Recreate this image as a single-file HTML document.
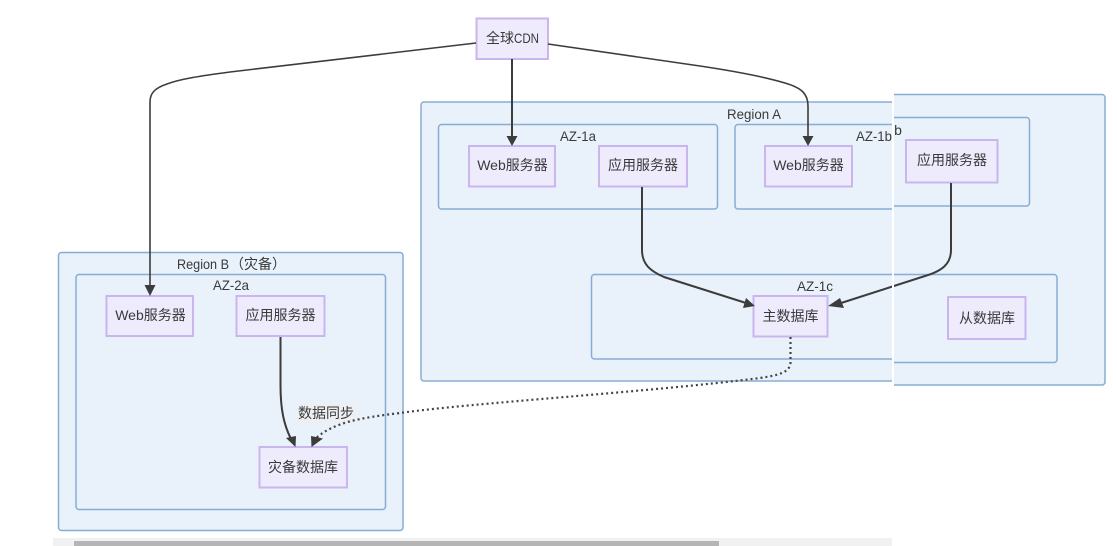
<!DOCTYPE html>
<html><head><meta charset="utf-8"><style>
html,body{margin:0;padding:0;background:#fff;width:1117px;height:546px;overflow:hidden}
svg{display:block;filter:blur(0.35px)}
text{font-family:"Liberation Sans","Noto Sans CJK SC",sans-serif;font-size:14px;fill:#3a3a3a;text-anchor:middle}
.g{fill:#e9f1fb;stroke:#88add4;stroke-width:1.5}
.n{fill:#eeebfd;stroke:#c9b6ee;stroke-width:2}
.e{fill:none;stroke:#3c3c3c;stroke-width:2}
.t{fill:none;stroke:#3c3c3c;stroke-width:1.6}
.d{fill:none;stroke:#444;stroke-width:2.2;stroke-dasharray:2 3}
</style></head><body>
<svg width="1117" height="546" viewBox="0 0 1117 546" xmlns="http://www.w3.org/2000/svg">
<defs>
<clipPath id="l"><rect x="0" y="0" width="892" height="546"/></clipPath>
<clipPath id="r"><rect x="894" y="0" width="223" height="546"/></clipPath>
</defs>
<rect x="53" y="538" width="839" height="8" fill="#f1f1f1"/>
<rect x="74" y="541" width="645" height="5" fill="#b5b5b5"/>
<g clip-path="url(#l)">
<rect class="g" x="421" y="102" width="520" height="279" rx="3"/>
<rect class="g" x="438.500" y="124.500" width="279" height="84.500" rx="3"/>
<rect class="g" x="735" y="124.500" width="220" height="84.500" rx="3"/>
<rect class="g" x="591.500" y="274.500" width="380" height="84.500" rx="3"/>
</g>
<g clip-path="url(#r)">
<rect class="g" x="860" y="94.500" width="245" height="290.500" rx="3"/>
<rect class="g" x="860" y="117.500" width="169.500" height="88.500" rx="3"/>
<rect class="g" x="860" y="274.500" width="197" height="88" rx="3"/>
</g>
<rect class="g" x="58.500" y="252.500" width="344.500" height="278" rx="3"/>
<rect class="g" x="76" y="274.500" width="309.500" height="235" rx="3"/>
<text x="203" y="269" textLength="52" lengthAdjust="spacingAndGlyphs">Region B</text>
<text x="258" y="269">（灾备）</text>
<text x="231" y="290" textLength="36" lengthAdjust="spacingAndGlyphs">AZ-2a</text>
<text x="754" y="119" textLength="54" lengthAdjust="spacingAndGlyphs" clip-path="url(#l)">Region A</text>
<text x="578" y="141" textLength="36" lengthAdjust="spacingAndGlyphs">AZ-1a</text>
<text x="874" y="141" textLength="36" lengthAdjust="spacingAndGlyphs" clip-path="url(#l)">AZ-1b</text>
<text x="898" y="135">b</text>
<text x="815" y="291" textLength="36" lengthAdjust="spacingAndGlyphs">AZ-1c</text>
<rect class="n" x="476.500" y="18.500" width="71.500" height="40.500"/>
<text x="500" y="43">全球</text>
<text x="526.500" y="43" textLength="25" lengthAdjust="spacingAndGlyphs">CDN</text>
<rect class="n" x="469" y="146" width="86" height="40.500"/>
<text x="512.500" y="170">Web服务器</text>
<rect class="n" x="599" y="146" width="88" height="40.500"/>
<text x="643" y="170">应用服务器</text>
<rect class="n" x="765" y="146" width="87" height="40.500"/>
<text x="808.500" y="170">Web服务器</text>
<rect class="n" x="906" y="140" width="91.500" height="42.500"/>
<text x="952" y="165">应用服务器</text>
<rect class="n" x="753.500" y="296" width="74" height="40.500"/>
<text x="790.500" y="321">主数据库</text>
<rect class="n" x="948" y="297" width="77.500" height="42"/>
<text x="987" y="323">从数据库</text>
<rect class="n" x="106.500" y="296" width="86.500" height="40"/>
<text x="150.500" y="320">Web服务器</text>
<rect class="n" x="236.500" y="296" width="88" height="40"/>
<text x="280.500" y="320">应用服务器</text>
<rect class="n" x="259.500" y="447" width="87.500" height="40.500"/>
<text x="303" y="472">灾备数据库</text>
<rect x="298" y="404" width="57" height="19" fill="#eeeeee" fill-opacity=".7"/>
<text x="326" y="418">数据同步</text>
<path class="t" d="M476 43 L230 72 C200 76 180 79 167 84 C155 88 150 93 150 102 L150 286"/>
<path d="M144.500 285 L155.500 285 L150 296 Z" fill="#3c3c3c"/>
<path class="e" d="M512 59 L512 136"/>
<path d="M506.500 136 L517.500 136 L512 146 Z" fill="#3c3c3c"/>
<path class="t" d="M548 44 L700 66 C740 72 765 77 785 83 C802 88 808 94 808 106 L808 136"/>
<path d="M802.500 136 L813.500 136 L808 146 Z" fill="#3c3c3c"/>
<path class="e" d="M642 187 L642 250 C642 264 650 271 664 277 L746 303"/>
<path d="M746 298 L755 306 L743 308 Z" fill="#3c3c3c"/>
<path class="e" d="M951 183 L951 250 C951 264 942 271 925 276 L838 304"/>
<path d="M828 306 L840 298 L844 308 Z" fill="#3c3c3c"/>
<path class="e" d="M280.500 337 L280.500 385 C280.500 410 284 425 291 439"/>
<path d="M286 438 L296 436 L295.500 447 Z" fill="#3c3c3c"/>
<path class="d" d="M790.500 337 L790.500 362 C790.500 372 780 375 760 378 C650 392 470 403 400 413 C360 418 335 422 316 438"/>
<path d="M311 436 L323 438.500 L311.500 447 Z" fill="#3c3c3c"/>
<rect x="892" y="88" width="2" height="300" fill="#fff"/>
</svg>
</body></html>
